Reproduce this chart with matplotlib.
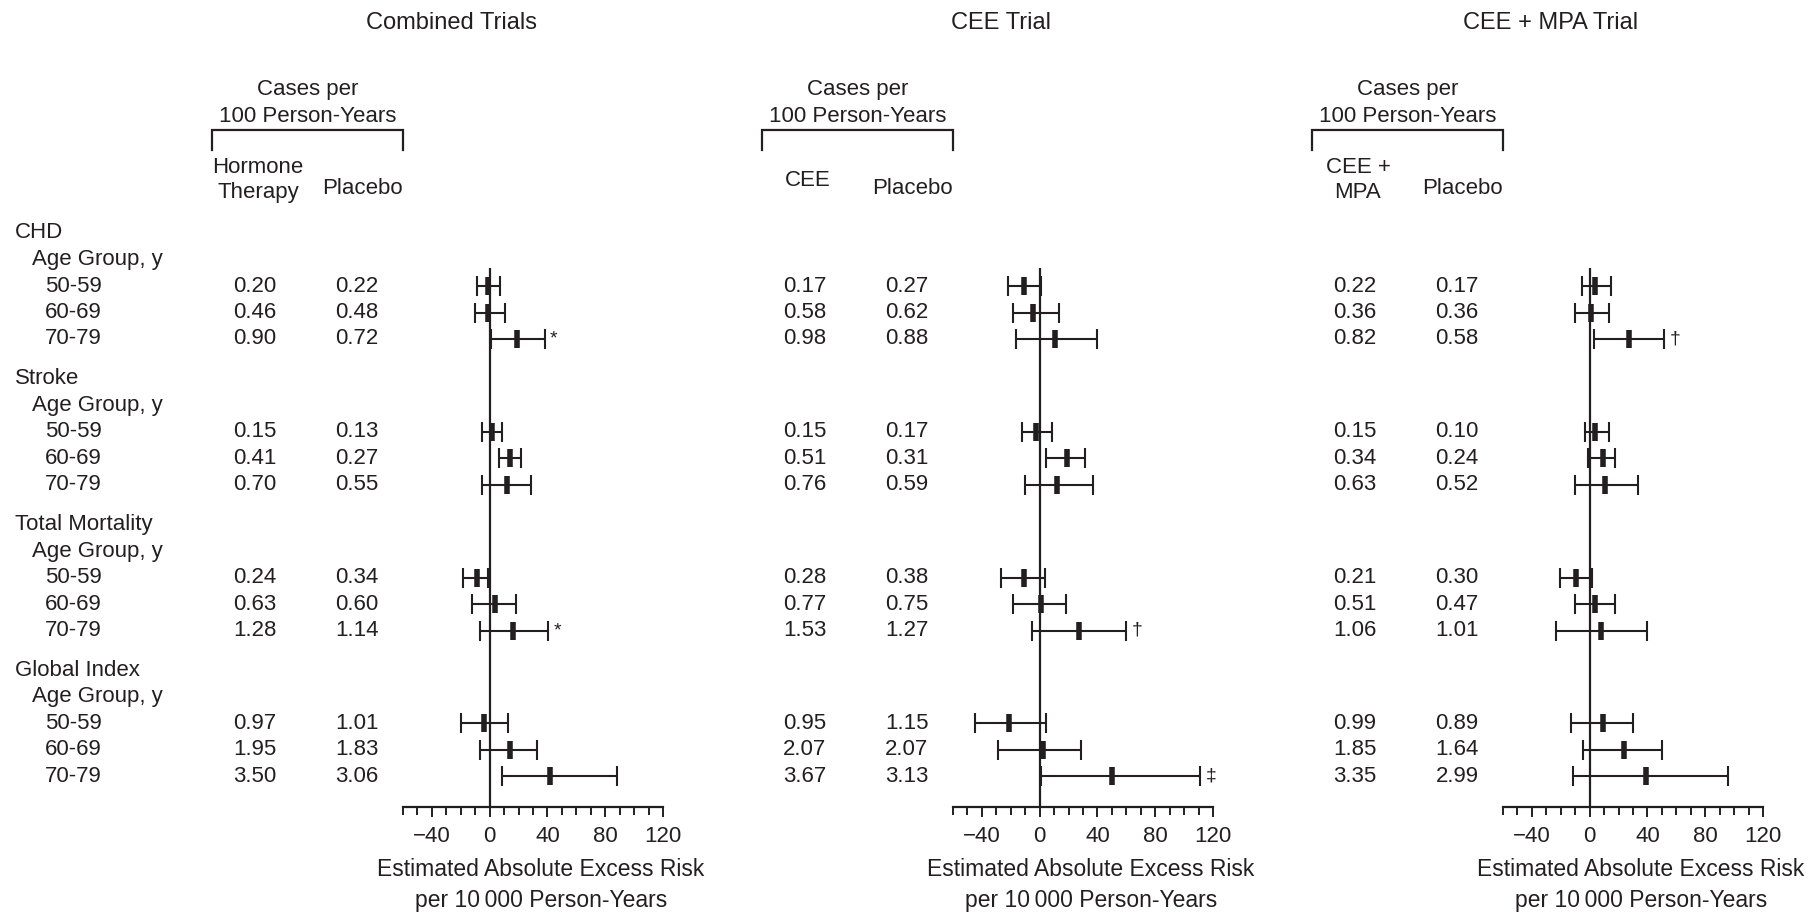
import matplotlib
matplotlib.use("Agg")
import matplotlib.pyplot as plt
import numpy as np
from matplotlib.ticker import FixedLocator, MultipleLocator

plt.rcParams['font.family'] = ['Liberation Sans', 'DejaVu Sans']
INK = '#231f20'

groups = ["CHD", "Stroke", "Total Mortality", "Global Index"]
ages = ["50-59", "60-69", "70-79"]
titles = ["Combined Trials", "CEE Trial", "CEE + MPA Trial"]
treat_heads = ["Hormone\nTherapy", "CEE", "CEE +\nMPA"]

# cases per 100 person-years, rows: CHD x3, Stroke x3, Mortality x3, Global x3
comb_treat = ["0.20", "0.46", "0.90", "0.15", "0.41", "0.70", "0.24", "0.63", "1.28", "0.97", "1.95", "3.50"]
comb_plac = ["0.22", "0.48", "0.72", "0.13", "0.27", "0.55", "0.34", "0.60", "1.14", "1.01", "1.83", "3.06"]
cee_treat = ["0.17", "0.58", "0.98", "0.15", "0.51", "0.76", "0.28", "0.77", "1.53", "0.95", "2.07", "3.67"]
cee_plac = ["0.27", "0.62", "0.88", "0.17", "0.31", "0.59", "0.38", "0.75", "1.27", "1.15", "2.07", "3.13"]
mpa_treat = ["0.22", "0.36", "0.82", "0.15", "0.34", "0.63", "0.21", "0.51", "1.06", "0.99", "1.85", "3.35"]
mpa_plac = ["0.17", "0.36", "0.58", "0.10", "0.24", "0.52", "0.30", "0.47", "1.01", "0.89", "1.64", "2.99"]

# estimated absolute excess risk per 10 000 person-years (estimate, lower, upper)
comb_est = [-1, -1, 19, 1.6, 14, 12, -9, 4, 16, -4, 14, 42]
comb_lo = [-8.5, -10.5, 0.7, -5, 6.5, -5, -18.5, -12, -7, -20, -7, 8.5]
comb_hi = [7, 10.5, 38, 8.5, 22, 28.5, -1.2, 18.5, 40.5, 13, 33, 88]
cee_est = [-11, -4.5, 10.5, -2.3, 18.7, 12.3, -11, 0.7, 27.5, -21.3, 2.3, 49.8]
cee_lo = [-21.8, -18.5, -16.7, -12, 4.6, -10.2, -27, -18.5, -5, -45, -28.7, 0.7]
cee_hi = [1.2, 13.4, 40, 8.3, 31.2, 36.6, 3.5, 18, 59.7, 4.6, 28.5, 111]
mpa_est = [3.9, 0.9, 27.5, 3.9, 9, 10.9, -9.2, 3.9, 7.6, 9.4, 24, 39]
mpa_lo = [-5.3, -10.4, 3.2, -3.5, -1.4, -10, -20.3, -10, -23, -13.2, -4.4, -11.3]
mpa_hi = [15, 13.2, 51.3, 13.2, 17.8, 33.3, 1.6, 17.8, 40, 30, 50, 96]

comb_flag = ["", "", "*", "", "", "", "", "", "*", "", "", ""]
cee_flag = ["", "", "", "", "", "", "", "", "\u2020", "", "", "\u2021"]
mpa_flag = ["", "", "\u2020", "", "", "", "", "", "", "", "", ""]

panels = [
    (comb_treat, comb_plac, comb_est, comb_lo, comb_hi, comb_flag),
    (cee_treat, cee_plac, cee_est, cee_lo, cee_hi, cee_flag),
    (mpa_treat, mpa_plac, mpa_est, mpa_lo, mpa_hi, mpa_flag),
]

W, H = 1820, 914
fig = plt.figure(figsize=(W / 100, H / 100), dpi=100)
bg = fig.add_axes([0, 0, 1, 1])
bg.set_xlim(0, W)
bg.set_ylim(H, 0)
bg.axis('off')

FS = 16
ROW0, ROWH = 233, 26.5   # pixel y of first header row, pixel per row unit


def row_u(g, k):
    return g * 5.5 + k


def py(u):
    return ROW0 + ROWH * u


# data rows in row units
data_u = np.array([row_u(g, 2 + a) for g in range(4) for a in range(3)])

# left row labels
for g, name in enumerate(groups):
    bg.text(15, py(row_u(g, 0)), name, fontsize=FS, color=INK, va='center', ha='left')
    bg.text(32, py(row_u(g, 1)), "Age Group, y", fontsize=FS, color=INK, va='center', ha='left')
    for a, lab in enumerate(ages):
        bg.text(45, py(row_u(g, 2 + a)), lab, fontsize=FS, color=INK, va='center', ha='left')

ax_top, ax_bot = 268, 807
for p, (treat, plac, est, lo, hi, flag) in enumerate(panels):
    off = 550 * p
    bg.text(451 + off, 23, titles[p], fontsize=17, color=INK, ha='center', va='center')
    bg.text(308 + off, 90, "Cases per", fontsize=FS, color=INK, ha='center', va='center')
    bg.text(308 + off, 117, "100 Person-Years", fontsize=FS, color=INK, ha='center', va='center')
    bg.plot([212 + off, 212 + off, 403 + off, 403 + off], [150, 130, 130, 150],
            color=INK, lw=1.6, solid_joinstyle='miter')
    bg.text(258 + off, 180, treat_heads[p], fontsize=FS, color=INK, ha='center', va='center',
            linespacing=1.3)
    bg.text(362 + off, 188, "Placebo", fontsize=FS, color=INK, ha='center', va='center')
    for i, u in enumerate(data_u):
        bg.text(255 + off, py(u), treat[i], fontsize=FS, color=INK, ha='center', va='center')
        bg.text(357 + off, py(u), plac[i], fontsize=FS, color=INK, ha='center', va='center')

    ax = fig.add_axes([(403 + off) / W, (H - ax_bot) / H, 260 / W, (ax_bot - ax_top) / H])
    ax.set_xlim(-60, 120)
    ax.set_ylim((ax_bot - ROW0) / ROWH, (ax_top - ROW0) / ROWH)
    ax.patch.set_alpha(0)
    for s in ['top', 'left', 'right']:
        ax.spines[s].set_visible(False)
    ax.spines['bottom'].set_linewidth(1.6)
    ax.spines['bottom'].set_color(INK)
    ax.axvline(0, color=INK, lw=1.6)
    est = np.array(est)
    ax.errorbar(est, data_u, xerr=[est - np.array(lo), np.array(hi) - est], fmt='none',
                ecolor=INK, elinewidth=1.5, capsize=7, capthick=1.5)
    ax.plot(est, data_u, ls='none', marker='|', ms=13, mew=4, color=INK)
    for i, f in enumerate(flag):
        if f:
            ax.annotate(f, (hi[i], data_u[i]), xytext=(4, 0), textcoords='offset points',
                        ha='left', va='center', fontsize=FS - 2, color=INK)
    ax.xaxis.set_major_locator(FixedLocator([-40, 0, 40, 80, 120]))
    ax.xaxis.set_minor_locator(MultipleLocator(10))
    ax.tick_params(axis='x', which='major', length=7.5, width=1.4, color=INK,
                   labelsize=FS, labelcolor=INK, pad=6)
    ax.tick_params(axis='x', which='minor', length=5.5, width=1.4, color=INK)
    ax.set_yticks([])
    ax.set_xlabel("Estimated Absolute Excess Risk\nper 10\u2009000 Person-Years",
                  fontsize=16.5, color=INK, linespacing=1.45)
    ax.xaxis.set_label_coords(0.53, -0.094)
    ax.xaxis.label.set_va('top')

fig.savefig("out.png", dpi=100)
